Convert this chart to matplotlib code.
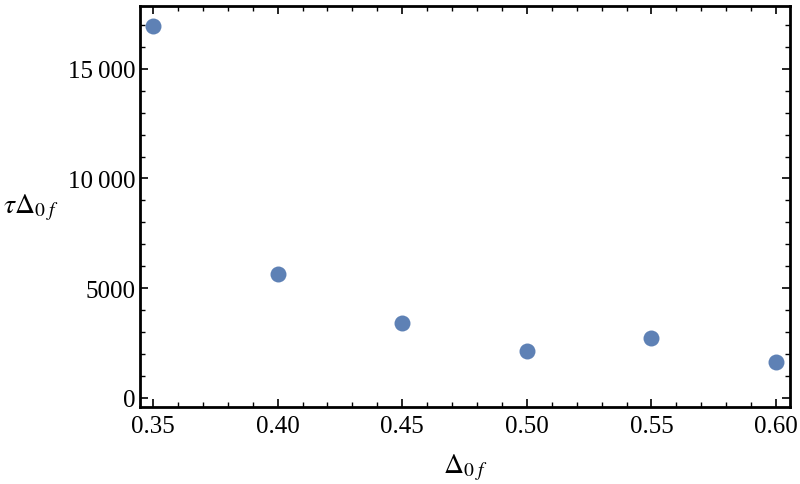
import matplotlib
matplotlib.use('Agg')
from matplotlib import pyplot as plt
from matplotlib.ticker import MultipleLocator, FuncFormatter

# data
delta = [0.35, 0.40, 0.45, 0.50, 0.55, 0.60]
tau_delta = [16950, 5650, 3420, 2140, 2740, 1640]

plt.rcParams['font.family'] = ['Liberation Serif', 'DejaVu Serif']
plt.rcParams['mathtext.fontset'] = 'stix'

fig = plt.figure(figsize=(8, 4.85), dpi=100)
ax = fig.add_axes([0.175, 0.159, 0.8125, 0.827])

ax.plot(delta, tau_delta, 'o', color='#5E81B5', markersize=11.5, markeredgewidth=0)

ax.set_xlim(0.3448, 0.6056)
ax.set_ylim(-410, 17870)

ax.xaxis.set_major_locator(MultipleLocator(0.05))
ax.xaxis.set_minor_locator(MultipleLocator(0.01))
ax.yaxis.set_major_locator(MultipleLocator(5000))
ax.yaxis.set_minor_locator(MultipleLocator(1000))
ax.xaxis.set_major_formatter(FuncFormatter(lambda v, p: '%.2f' % v))


def yfmt(v, p):
    v = int(round(v))
    if v >= 10000:
        return '%d\u2009%03d' % (v // 1000, v % 1000)
    return '%d' % v


ax.yaxis.set_major_formatter(FuncFormatter(yfmt))

for s in ax.spines.values():
    s.set_linewidth(2.0)
ax.tick_params(which='both', direction='in', top=True, right=True, labelsize=18)
ax.tick_params(axis='x', pad=6)
ax.tick_params(axis='y', pad=3)
ax.tick_params(which='major', length=6, width=1.2)
ax.tick_params(which='minor', length=3.5, width=1.0)

ax.set_xlabel(r'$\Delta_{0\;f}$', fontsize=20, labelpad=10)
ax.set_ylabel(r'$\tau\Delta_{0\;f}$', fontsize=20, rotation=0, va='center', ha='center')
ax.yaxis.set_label_coords(-0.168, 0.5)

fig.savefig('out.png', dpi=100)
